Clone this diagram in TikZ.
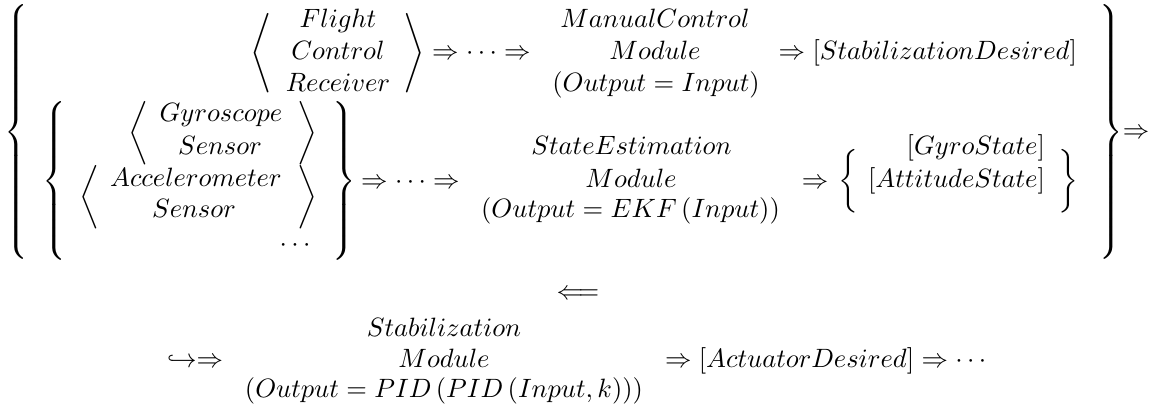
\documentclass[tikz,border=0pt]{standalone}
\usepackage{amsmath}
\newcommand{\xdelim}[2]{\left#1\vcenter{\hrule height #2 width 0pt}\right.}
\newcommand{\ydelim}[2]{\left.\vcenter{\hrule height #2 width 0pt}\right#1}
\begin{document}
\begin{tikzpicture}[x=0.37736pt,y=-0.37736pt,
  txt/.style={inner sep=0pt,outer sep=0pt,anchor=base},
  dlm/.style={inner sep=0pt,outer sep=0pt,anchor=center}]
\useasboundingbox (0,0) rectangle (1156,412);
% outer braces
\node[dlm] (LB) at (18,132) {$\xdelim\{{99pt}$};
\node[dlm] (RB) at (1110,132) {$\ydelim\}{99pt}$};
\node[txt] (fin) at (1136,139) {$\Rightarrow$};
% row 1
\node[dlm] (fa) at (261.5,53.5) {$\Biggl\langle$};
\node[txt] (f1) at (338,28) {$Flight$};
\node[txt] (f2) at (338,60) {$Control$};
\node[txt] (f3) at (338,92) {$Receiver$};
\node[dlm] (fb) at (414.5,53.5) {$\Biggr\rangle$};
\node[txt] (a1) at (481.5,60) {$\Rightarrow\cdots\Rightarrow$};
\node[txt] (m1) at (655,28) {$ManualControl$};
\node[txt] (m2) at (655,60) {$Module$};
\node[txt] (m3) at (656,92) {$(Output=Input)$};
\node[txt,anchor=base east] (s1) at (1077,60) {$\Rightarrow[StabilizationDesired]$};
% row 2
\node[dlm] (IB) at (56,181) {$\xdelim\{{63pt}$};
\node[dlm] (ga) at (138.5,133.5) {$\biggl\langle$};
\node[txt] (g1) at (221,122) {$Gyroscope$};
\node[txt] (g2) at (220,155) {$Sensor$};
\node[dlm] (gb) at (307,133.5) {$\biggr\rangle$};
\node[dlm] (aa) at (89.5,197.5) {$\biggl\langle$};
\node[txt] (c1) at (196,187) {$Accelerometer$};
\node[txt] (c2) at (194,218) {$Sensor$};
\node[dlm] (ab) at (307,197.5) {$\biggr\rangle$};
\node[txt,anchor=base east] (dd) at (315,252) {$\cdots$};
\node[dlm] (IR) at (343,181) {$\ydelim\}{63pt}$};
\node[txt] (a2) at (410.5,189) {$\Rightarrow\cdots\Rightarrow$};
\node[txt] (e1) at (631.5,155) {$StateEstimation$};
\node[txt] (e2) at (631,188) {$Module$};
\node[txt] (e3) at (630.5,218) {$(Output=EKF\left(Input\right))$};
\node[txt] (a3) at (815,189) {$\Rightarrow$};
\node[dlm] (sb) at (848,181) {$\biggl\{$};
\node[txt,anchor=base east] (o1) at (1045,155) {$[GyroState]$};
\node[txt,anchor=base east] (o2) at (1045,188) {$[AttitudeState]$};
\node[dlm] (se) at (1068.5,181) {$\biggr\}$};
% line 2
\node[txt] (back) at (578,299.5) {$\Longleftarrow$};
% row 3
\node[txt,anchor=base east] (h) at (223,368) {$\hookrightarrow\Rightarrow$};
\node[txt] (p1) at (444,337) {$Stabilization$};
\node[txt] (p2) at (444,368) {$Module$};
\node[txt] (p3) at (444,398) {$(Output=PID\left(PID\left(Input,k\right)\right))$};
\node[txt,anchor=base west] (p4) at (665,368) {$\Rightarrow[ActuatorDesired]\Rightarrow\cdots$};
\end{tikzpicture}
\end{document}
